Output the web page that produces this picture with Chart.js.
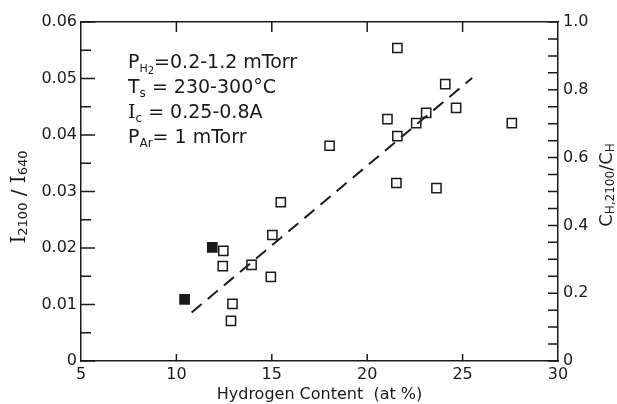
<!DOCTYPE html>
<html>
<head>
<meta charset="utf-8">
<script src="https://cdn.jsdelivr.net/npm/chart.js@4.4.1/dist/chart.umd.min.js"></script>
<style>
  body { margin: 0; background: #fff; }
  #wrap { width: 617px; height: 404px; }
</style>
</head>
<body>
<div id="wrap"><canvas id="chart" width="617" height="404"></canvas></div>
<script>
// open squares (hydrogen content, I2100/I640)
const openX = [21.58, 24.09, 24.66, 21.06, 22.57, 23.09, 21.58, 27.58, 18.03, 21.53, 23.63,
               15.47, 15.03, 12.46, 12.43, 13.94, 14.95, 12.94, 12.86];
const openY = [0.0554, 0.0490, 0.0448, 0.0428, 0.0421, 0.0439, 0.0398, 0.0421, 0.0381, 0.0315, 0.0306,
               0.0281, 0.0223, 0.0195, 0.0168, 0.0170, 0.0149, 0.0101, 0.0071];
// filled squares
const filledX = [10.43, 11.88];
const filledY = [0.0109, 0.0201];
// dashed fit line end points
const fitX = [10.8, 25.5];
const fitY = [0.0086, 0.0501];

// axis ticks
const xTicks = [5, 10, 15, 20, 25, 30];
const xTickLabels = ['5', '10', '15', '20', '25', '30'];
const yTicks = [0, 0.01, 0.02, 0.03, 0.04, 0.05, 0.06];
const yTickLabels = ['0', '0.01', '0.02', '0.03', '0.04', '0.05', '0.06'];
const yMinorTicks = [0.005, 0.015, 0.025, 0.035, 0.045, 0.055];
const y2Ticks = [0, 0.2, 0.4, 0.6, 0.8, 1.0];
const y2TickLabels = ['0', '0.2', '0.4', '0.6', '0.8', '1.0'];
const y2MinorTicks = [0.05, 0.1, 0.15, 0.25, 0.3, 0.35, 0.45, 0.5, 0.55, 0.65, 0.7, 0.75, 0.85, 0.9, 0.95];

const FONT = 'DejaVu Sans';
const SERIF = 'DejaVu Serif';
const INK = '#1a1a1a';

const toPoints = (xs, ys) => xs.map((x, i) => ({ x, y: ys[i] }));

// draws a run of text pieces (for subscripts), optionally rotated and centred
function drawRich(ctx, x, y, parts, rotated) {
  ctx.save();
  ctx.translate(x, y);
  if (rotated) ctx.rotate(-Math.PI / 2);
  let w = 0;
  parts.forEach(p => { ctx.font = p.f; w += ctx.measureText(p.t).width; });
  let cx = rotated ? -w / 2 : 0;
  parts.forEach(p => {
    ctx.font = p.f;
    ctx.fillText(p.t, cx, p.dy || 0);
    cx += ctx.measureText(p.t).width;
  });
  ctx.restore();
}

const decorations = {
  id: 'decorations',
  afterDraw(chart) {
    const { ctx, chartArea: a, scales: { x, y, y2 } } = chart;
    ctx.save();
    ctx.strokeStyle = INK;
    ctx.lineWidth = 1.5;
    ctx.beginPath();
    // inward tick marks on all four sides
    xTicks.slice(1, -1).forEach(v => {
      const px = x.getPixelForValue(v);
      ctx.moveTo(px, a.bottom); ctx.lineTo(px, a.bottom - 7);
      ctx.moveTo(px, a.top); ctx.lineTo(px, a.top + 10);
    });
    yTicks.forEach(v => {
      const py = y.getPixelForValue(v);
      ctx.moveTo(a.left, py); ctx.lineTo(a.left + 14, py);
    });
    yMinorTicks.forEach(v => {
      const py = y.getPixelForValue(v);
      ctx.moveTo(a.left, py); ctx.lineTo(a.left + 10, py);
    });
    y2Ticks.concat(y2MinorTicks).forEach(v => {
      const py = y2.getPixelForValue(v);
      ctx.moveTo(a.right, py); ctx.lineTo(a.right - 10, py);
    });
    ctx.stroke();

    ctx.fillStyle = INK;
    ctx.textBaseline = 'alphabetic';

    // condition box text
    const big = '19px ' + FONT, sub = '12px ' + FONT;
    drawRich(ctx, 128, 68, [
      { t: 'P', f: big }, { t: 'H', f: '11px ' + FONT, dy: 4 }, { t: '2', f: '10px ' + FONT, dy: 6 },
      { t: '=0.2-1.2 mTorr', f: big }
    ]);
    drawRich(ctx, 128, 93, [
      { t: 'T', f: big }, { t: 's', f: sub, dy: 4 }, { t: ' = 230-300°C', f: big }
    ]);
    drawRich(ctx, 128, 118, [
      { t: 'I', f: '19px ' + SERIF }, { t: 'c', f: sub, dy: 4 }, { t: ' = 0.25-0.8A', f: big }
    ]);
    drawRich(ctx, 128, 143, [
      { t: 'P', f: big }, { t: 'Ar', f: sub, dy: 4 }, { t: '= 1 mTorr', f: big }
    ]);

    // axis titles
    drawRich(ctx, 25, 197, [
      { t: 'I', f: '20px ' + SERIF }, { t: '2100', f: '13px ' + FONT, dy: 2 },
      { t: ' / ', f: '20px ' + FONT }, { t: 'I', f: '20px ' + SERIF }, { t: '640', f: '13px ' + FONT, dy: 2 }
    ], true);
    drawRich(ctx, 612, 185, [
      { t: 'C', f: '18px ' + FONT }, { t: 'H,2100', f: '12px ' + FONT, dy: 2 },
      { t: '/', f: '18px ' + FONT }, { t: 'C', f: '18px ' + FONT }, { t: 'H', f: '12px ' + FONT, dy: 2 }
    ], true);
    ctx.font = '16px ' + FONT;
    ctx.textAlign = 'center';
    ctx.fillText('Hydrogen Content  (at %)', (a.left + a.right) / 2, 399);
    ctx.restore();
  }
};

const tickFont = { family: FONT, size: 16 };

new Chart(document.getElementById('chart'), {
  type: 'scatter',
  data: {
    datasets: [
      {
        label: 'fit',
        type: 'line',
        data: toPoints(fitX, fitY),
        borderColor: INK,
        borderWidth: 2,
        borderDash: [13, 8],
        pointRadius: 0,
        fill: false
      },
      {
        label: 'open',
        data: toPoints(openX, openY),
        pointStyle: 'rect',
        pointRadius: 6.5,
        pointHoverRadius: 6.5,
        borderWidth: 1.5,
        borderColor: INK,
        backgroundColor: '#fff'
      },
      {
        label: 'filled',
        data: toPoints(filledX, filledY),
        pointStyle: 'rect',
        pointRadius: 6.5,
        pointHoverRadius: 6.5,
        borderWidth: 1.5,
        borderColor: INK,
        backgroundColor: INK
      }
    ]
  },
  options: {
    responsive: false,
    animation: false,
    events: [],
    layout: { padding: 0 },
    plugins: { legend: { display: false }, tooltip: { enabled: false } },
    scales: {
      x: {
        type: 'linear', position: 'bottom', min: 5, max: 30,
        afterFit: s => { s.height = 43; },
        afterBuildTicks: s => { s.ticks = xTicks.map(v => ({ value: v })); },
        grid: { display: false, drawTicks: false },
        border: { display: true, color: INK, width: 1.5 },
        ticks: { padding: 4, color: INK, font: tickFont, maxRotation: 0, autoSkip: false,
                 callback: (v, i) => xTickLabels[i] }
      },
      xTop: {
        type: 'linear', position: 'top', min: 5, max: 30,
        afterFit: s => { s.height = 22; },
        grid: { display: false, drawTicks: false },
        border: { display: true, color: INK, width: 1.5 },
        ticks: { display: false }
      },
      y: {
        type: 'linear', position: 'left', min: 0, max: 0.06,
        afterFit: s => { s.width = 81; },
        afterBuildTicks: s => { s.ticks = yTicks.map(v => ({ value: v })); },
        grid: { display: false, drawTicks: false },
        border: { display: true, color: INK, width: 1.5 },
        ticks: { padding: 4, color: INK, font: tickFont, autoSkip: false,
                 callback: (v, i) => yTickLabels[i] }
      },
      y2: {
        type: 'linear', position: 'right', min: 0, max: 1,
        afterFit: s => { s.width = 59; },
        afterBuildTicks: s => { s.ticks = y2Ticks.map(v => ({ value: v })); },
        grid: { display: false, drawTicks: false },
        border: { display: true, color: INK, width: 1.5 },
        ticks: { padding: 5, color: INK, font: tickFont, autoSkip: false,
                 callback: (v, i) => y2TickLabels[i] }
      }
    }
  },
  plugins: [decorations]
});
</script>
</body>
</html>
